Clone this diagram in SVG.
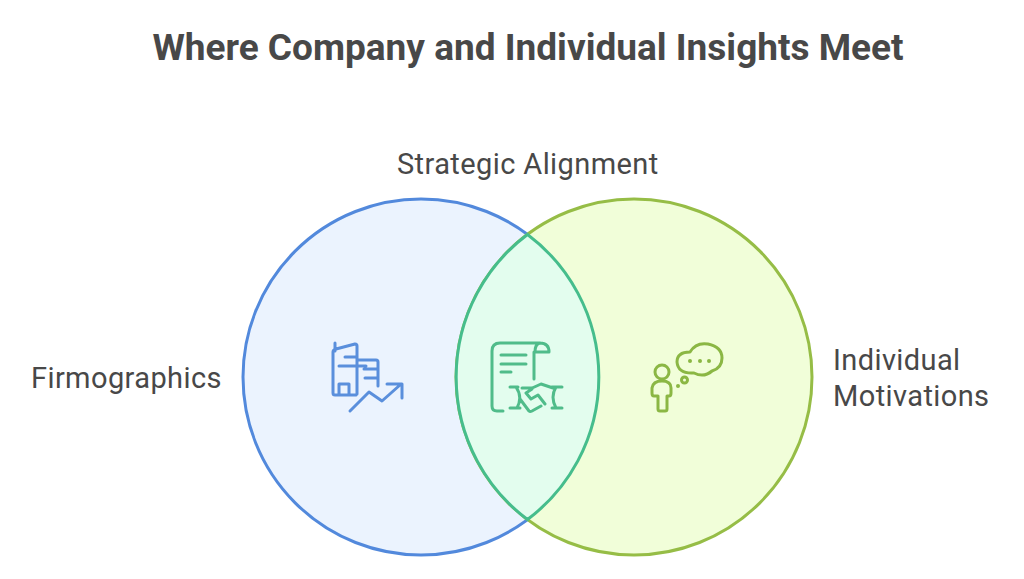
<svg xmlns="http://www.w3.org/2000/svg" width="1024" height="579" viewBox="0 0 1024 579">
<style>
text{font-family:Roboto,"Noto Sans",sans-serif;fill:#484848}
.t{font-size:37px;font-weight:700;text-anchor:middle}
.l{font-size:29px;letter-spacing:.4px}
.i{fill:none;stroke-width:3;stroke-linecap:round;stroke-linejoin:round}
</style>
<rect width="1024" height="579" fill="#fff"/>
<text class="t" x="528" y="60">Where Company and Individual Insights Meet</text>
<g id="circle-left">
<circle cx="421" cy="377" r="178" fill="#ebf3fe" stroke="#5289dc" stroke-width="3"/>
</g>
<g id="circle-right">
<circle cx="634" cy="377" r="178" fill="#f1fed9" stroke="#96bd46" stroke-width="3"/>
</g>
<g id="overlap">
<path d="M527.500 234.500A178 178 0 0 1 527.500 519.500A178 178 0 0 1 527.500 234.500Z" fill="#e3fdee" stroke="#46bd8c" stroke-width="3"/>
</g>
<g id="icon-firmographics">
<path class="i" stroke="#5a8fdc" d="M335 343V351M333 352V393Q333 395 335 395H356M333 352Q333 350 336 349L355 344Q357 344 357 346V394M339 366H366M345 357H357M357 360H376Q378 360 378 362V386M364 369H378M365 378H378M339 395V384H349V395M350 411L369 392L382 401L400 385M387 384H402V398"/>
</g>
<g id="icon-alignment">
<path class="i" stroke="#50bc8a" d="M503 411H497Q492 411 492 406V351Q492 343 500 343H540Q549 343 549 352H535Q535 344 540 343M534 352V379M501 355H526M501 364H526M501 372H511M510 387H518M510 408H520M552 387H562M552 408H562M516 387Q523 397 517 408M556 387Q550 397 556 408M520 399L529 411Q530 412 532 411L541 406M522 388H532M530 389L541 384L553 388M532 389L526 393L531 399L538 395L545 404"/>
</g>
<g id="icon-motivations">
<path class="i" stroke="#8bb744" d="M658 396H654Q652 396 652 393V388Q653 381 662 381Q671 381 671 388V393Q671 396 669 396H667V409Q667 411 665 411H660Q658 411 658 409ZM690 352Q696 342 708 344Q722 347 722 358Q722 368 712 371Q704 378 694 373Q678 374 677 362Q677 352 690 352Z"/>
<circle class="i" stroke="#8bb744" cx="662" cy="372" r="7"/>
<circle class="i" stroke="#8bb744" cx="684.500" cy="380" r="3"/>
<circle cx="678" cy="386" r="2" fill="#8bb744"/>
<circle cx="690" cy="361" r="2" fill="#8bb744"/>
<circle cx="700" cy="361" r="2" fill="#8bb744"/>
<circle cx="709" cy="361" r="2" fill="#8bb744"/>
</g>
<text class="l" x="397" y="173.500">Strategic Alignment</text>
<text class="l" x="31" y="387.500">Firmographics</text>
<text class="l" x="833" y="369.500">Individual</text>
<text class="l" x="833" y="405.500">Motivations</text>
</svg>
